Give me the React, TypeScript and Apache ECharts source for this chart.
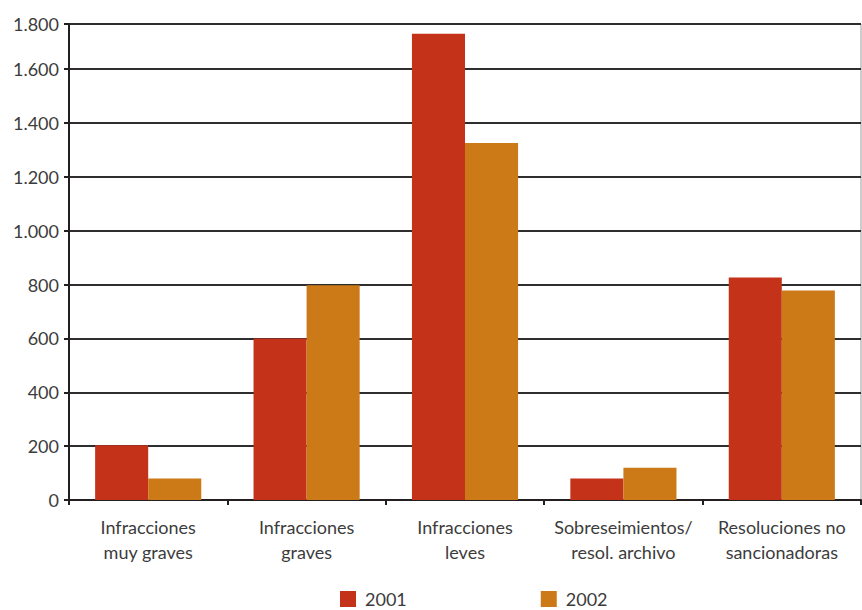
import React, { useEffect, useRef } from "react";
import * as echarts from "echarts";

const categories = [
  "Infracciones\nmuy graves",
  "Infracciones\ngraves",
  "Infracciones\nleves",
  "Sobreseimientos/\nresol. archivo",
  "Resoluciones no\nsancionadoras",
];
const values2001 = [203, 600, 1732, 80, 826];
const values2002 = [80, 798, 1326, 120, 778];
const yTickLabels = ["0", "200", "400", "600", "800", "1.000", "1.200", "1.400", "1.600", "1.800"];
const seriesNames = ["2001", "2002"];

const FONT = "Lato, 'Open Sans', sans-serif";
const TEXT = "#3c3c3c";

export default function App() {
  const ref = useRef<HTMLDivElement>(null);
  useEffect(() => {
    if (!ref.current) return;
    const chart = echarts.init(ref.current, undefined, { renderer: "svg" });
    chart.setOption({
      animation: false,
      grid: {
        left: 69,
        right: 1,
        top: 24,
        bottom: 110,
        show: true,
        borderColor: "#9a9a9a",
        borderWidth: 1,
        backgroundColor: "transparent",
      },
      legend: {
        data: seriesNames,
        left: 340,
        top: 590,
        padding: 0,
        icon: "rect",
        itemWidth: 16,
        itemHeight: 16,
        itemGap: 134,
        textStyle: {
          fontFamily: FONT,
          fontSize: 18,
          lineHeight: 16,
          height: 16,
          color: TEXT,
          padding: [0, 0, 0, 4],
        },
      },
      xAxis: {
        type: "category",
        data: categories,
        axisLine: { lineStyle: { color: "#231f20", width: 2 } },
        axisTick: { show: true, length: 5, lineStyle: { color: "#231f20", width: 2 } },
        axisLabel: {
          interval: 0,
          margin: 14,
          fontFamily: FONT,
          fontSize: 18,
          lineHeight: 25,
          color: TEXT,
        },
      },
      yAxis: {
        type: "value",
        min: 0,
        max: 1768,
        interval: 200,
        axisLine: { show: true, lineStyle: { color: "#231f20", width: 2 } },
        axisTick: { show: true, length: 5, lineStyle: { color: "#231f20", width: 2 } },
        splitLine: { show: true, lineStyle: { color: "#2e2e2e", width: 2 } },
        axisLabel: {
          margin: 10,
          fontFamily: FONT,
          fontSize: 18,
          color: TEXT,
          formatter: (v: number) => yTickLabels[Math.round(v / 200)] ?? "",
        },
      },
      series: [
        {
          name: seriesNames[0],
          type: "bar",
          data: values2001,
          barGap: "0%",
          barCategoryGap: "33%",
          itemStyle: { color: "#c4321a" },
        },
        {
          name: seriesNames[1],
          type: "bar",
          data: values2002,
          barGap: "0%",
          barCategoryGap: "33%",
          itemStyle: { color: "#cc7a17" },
        },
      ],
    });
    return () => chart.dispose();
  }, []);
  return <div ref={ref} style={{ width: 862, height: 610, position: "absolute", left: 0, top: 0 }} />;
}
